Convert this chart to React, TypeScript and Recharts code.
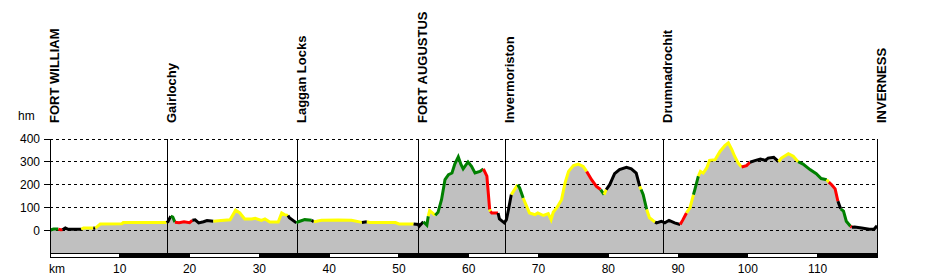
import React from 'react';
import {
  ComposedChart,
  Area,
  Line,
  XAxis,
  YAxis,
  ReferenceLine,
  ReferenceArea,
} from 'recharts';

// km along the route
const KM = [
  0, 0.5, 1.2, 1.5, 1.8, 2.2, 2.6, 4.5, 4.8, 6.2, 6.5, 6.8, 7.2, 10.3, 10.5, 16.7,
  16.9, 17.3, 17.6, 17.9, 18.5, 19.2, 20.0, 20.4, 20.8, 21.3, 22.0, 22.5, 23.4, 24.5,
  25.8, 26.6, 27.2, 27.9, 28.9, 29.4, 30.3, 30.8, 31.5, 32.7, 33.2, 33.6, 34.1, 34.3,
  35.3, 35.6, 36.5, 37.5, 37.8, 38.2, 38.9, 41.3, 43.2, 44.7, 45.4, 45.8, 49.5, 50.0,
  52.1, 52.8, 52.9, 53.5, 54.0, 54.2, 54.4, 55.2, 55.6, 56.1, 56.6, 57.1, 57.6, 58.0,
  58.5, 58.9, 59.2, 59.9, 60.4, 60.9, 61.6, 62.1, 62.6, 62.8, 63.0, 63.1, 63.3, 64.2,
  64.4, 65.1, 65.4, 65.7, 66.1, 66.4, 67.0, 67.3, 67.8, 68.3, 68.7, 69.5, 69.9, 70.7,
  71.4, 71.8, 72.1, 72.6, 73.3, 73.8, 74.3, 75.0, 75.7, 76.4, 76.9, 77.6, 78.3, 78.9,
  79.4, 79.7, 80.2, 80.9, 81.6, 82.6, 83.3, 84.0, 84.5, 84.7, 85.0, 85.5, 85.9, 86.7,
  86.9, 87.6, 88.1, 88.7, 89.5, 90.3, 90.7, 91.2, 91.7, 92.2, 92.4, 92.9, 93.2, 93.6,
  94.1, 94.5, 95.3, 96.0, 96.7, 97.2, 97.7, 98.1, 98.6, 99.1, 99.8, 100.3, 101.0, 101.8,
  102.5, 102.9, 103.7, 104.4, 104.8, 105.8, 106.5, 107.2, 107.9, 108.9, 109.8, 110.5,
  111.3, 111.6, 112.0, 112.5, 112.9, 113.3, 113.7, 114.1, 114.7, 114.9, 115.3, 116.3,
  117.4, 118.1, 118.5,
];

// height in metres
const ELEV = [
  3, 8, 8, 5, 5, 13, 7, 7, 13, 13, 12, 20, 30, 31, 36, 36,
  40, 64, 60, 38, 36, 40, 36, 46, 48, 35, 40, 45, 42, 45,
  48, 90, 78, 52, 52, 55, 46, 52, 39, 39, 78, 71, 67, 57,
  35, 40, 49, 46, 40, 42, 46, 47, 46, 37, 40, 37, 36, 30,
  30, 28, 20, 40, 25, 64, 88, 68, 81, 136, 223, 245, 252, 291,
  322, 288, 270, 300, 281, 252, 259, 270, 238, 165, 93, 85, 78, 78,
  52, 35, 49, 93, 158, 172, 201, 187, 143, 107, 78, 71, 78, 67,
  75, 49, 81, 100, 136, 209, 259, 284, 291, 281, 259, 223, 194, 180,
  158, 180, 201, 249, 267, 277, 270, 252, 194, 180, 158, 93, 57, 38,
  35, 42, 35, 46, 35, 28, 49, 78, 100, 158, 180, 238, 259, 252,
  274, 307, 310, 346, 371, 383, 354, 325, 296, 278, 284, 299, 306, 313,
  307, 317, 320, 301, 317, 336, 325, 301, 291, 267, 249, 228,
  223, 212, 201, 183, 129, 96, 86, 42, 20, 16, 17, 13,
  7, 8, 22,
];

// gradient class of the stretch ending at each point
const GRADE = [
  'k', 'g', 'g', 'r', 'r', 'k', 'k', 'k', 'y', 'y', 'k', 'y', 'y', 'y', 'y', 'y',
  'k', 'k', 'g', 'g', 'r', 'r', 'r', 'r', 'k', 'k', 'k', 'k', 'k', 'y',
  'y', 'y', 'y', 'y', 'y', 'y', 'y', 'y', 'y', 'y', 'y', 'y', 'y', 'k',
  'k', 'g', 'g', 'g', 'k', 'y', 'y', 'y', 'y', 'y', 'k', 'y', 'y', 'y',
  'y', 'k', 'k', 'k', 'g', 'g', 'y', 'y', 'g', 'g', 'g', 'g', 'g', 'g',
  'g', 'g', 'g', 'g', 'g', 'g', 'g', 'g', 'r', 'r', 'r', 'y', 'r', 'r',
  'k', 'k', 'k', 'k', 'k', 'y', 'y', 'g', 'g', 'y', 'y', 'y', 'y', 'y',
  'y', 'y', 'y', 'y', 'y', 'y', 'y', 'y', 'y', 'y', 'y', 'r', 'r', 'r',
  'g', 'y', 'k', 'k', 'k', 'k', 'k', 'k', 'k', 'y', 'g', 'g', 'y', 'y',
  'k', 'k', 'k', 'k', 'k', 'k', 'r', 'r', 'y', 'y', 'g', 'g', 'y', 'y',
  'y', 'y', 'y', 'y', 'y', 'y', 'y', 'y', 'y', 'y', 'r', 'r', 'k', 'k',
  'k', 'k', 'k', 'k', 'y', 'y', 'y', 'y', 'g', 'g', 'g', 'g',
  'g', 'y', 'r', 'r', 'r', 'k', 'g', 'g', 'g', 'r', 'k', 'k',
  'k', 'k', 'k',
];

const PLACES = ['FORT WILLIAM', 'Gairlochy', 'Laggan Locks', 'FORT AUGUSTUS', 'Invermoriston', 'Drumnadrochit', 'INVERNESS'];
const PLACE_KM = [0, 16.85, 35.5, 52.75, 65.3, 87.9, 118.5];

const Y_TICKS = [0, 100, 200, 300, 400];
const X_TICKS = [10, 20, 30, 40, 50, 60, 70, 80, 90, 100, 110];
const SCALE_STOPS = [0, 10, 20, 30, 40, 50, 60, 70, 80, 90, 100, 110, 118.5];

const COLORS: Record<string, string> = {
  k: '#000000',
  y: '#ffff00',
  g: '#008000',
  r: '#ff0000',
};

const FONT = '"Liberation Sans", Arial, sans-serif';

// split the profile into runs of the same colour, each its own series
const runs: { key: string; color: string }[] = [];
const rows: Record<string, number | null>[] = KM.map((km, i) => ({ km, elev: ELEV[i] }));
for (let i = 1; i < KM.length; i++) {
  const c = GRADE[i];
  if (i === 1 || GRADE[i - 1] !== c) {
    runs.push({ key: `s${runs.length}`, color: COLORS[c] });
    rows[i - 1][runs[runs.length - 1].key] = ELEV[i - 1];
  }
  rows[i][runs[runs.length - 1].key] = ELEV[i];
}

const PlaceLabel = ({ viewBox, value }: any) => {
  if (!viewBox) return null;
  const x = viewBox.x + 8.5;
  const y = viewBox.y - 16;
  return (
    <text
      x={x}
      y={y}
      transform={`rotate(-90 ${x} ${y})`}
      fontFamily={FONT}
      fontSize={13}
      fontWeight="bold"
      fill="#000"
      textAnchor="start"
    >
      {value}
    </text>
  );
};

export default function App() {
  return (
    <div style={{ position: 'absolute', left: 0, top: 0, background: '#fff' }}>
      <ComposedChart
        width={927}
        height={277}
        data={rows}
        margin={{ top: 139, right: 50, bottom: 0, left: 0 }}
      >
        <XAxis
          dataKey="km"
          type="number"
          domain={[0, 118.5]}
          ticks={X_TICKS}
          allowDataOverflow
          axisLine={false}
          tickLine={false}
          tickSize={4}
          tickMargin={2}
          height={19}
          tick={{ fontSize: 12, fill: '#000', fontFamily: FONT }}
          label={{
            content: ({ viewBox }: any) => (
              <text x={viewBox.x - 1} y={viewBox.y + 15} fontSize={12} fontFamily={FONT} fill="#000">
                km
              </text>
            ),
          }}
        />
        <YAxis
          type="number"
          domain={[-118, 400]}
          ticks={Y_TICKS}
          allowDataOverflow
          width={50}
          axisLine={{ stroke: '#000', shapeRendering: 'crispEdges' }}
          tickLine={{ stroke: '#000', shapeRendering: 'crispEdges' }}
          tickSize={6}
          tickMargin={4}
          tick={{ fontSize: 12, fill: '#000', fontFamily: FONT }}
          label={{
            content: ({ viewBox }: any) => (
              <text x={viewBox.x + 18} y={viewBox.y - 19} fontSize={12} fontFamily={FONT} fill="#000">
                hm
              </text>
            ),
          }}
        />
        <Area
          dataKey="elev"
          type="linear"
          baseValue={-100}
          fill="#c0c0c0"
          fillOpacity={1}
          stroke="none"
          isAnimationActive={false}
        />
        {Y_TICKS.map((v) => (
          <ReferenceLine
            key={`g${v}`}
            y={v}
            stroke="#000"
            strokeDasharray="3 3"
            shapeRendering="crispEdges"
          />
        ))}
        {SCALE_STOPS.slice(0, -1).map((s, i) => (
          <ReferenceArea
            key={`b${i}`}
            x1={s}
            x2={SCALE_STOPS[i + 1]}
            y1={-117}
            y2={-100}
            fill={i % 2 === 0 ? '#ffffff' : '#000000'}
            fillOpacity={1}
            stroke="#000"
            strokeOpacity={1}
            shapeRendering="crispEdges"
          />
        ))}
        {PLACE_KM.map((k, i) => (
          <ReferenceLine
            key={`p${i}`}
            segment={[
              { x: k, y: -100 },
              { x: k, y: 400 },
            ]}
            stroke="#000"
            shapeRendering="crispEdges"
            label={{ value: PLACES[i], content: PlaceLabel }}
          />
        ))}
        {runs.map((r) => (
          <Line
            key={r.key}
            dataKey={r.key}
            type="linear"
            stroke={r.color}
            strokeWidth={3}
            dot={false}
            activeDot={false}
            connectNulls={false}
            isAnimationActive={false}
          />
        ))}
      </ComposedChart>
    </div>
  );
}
